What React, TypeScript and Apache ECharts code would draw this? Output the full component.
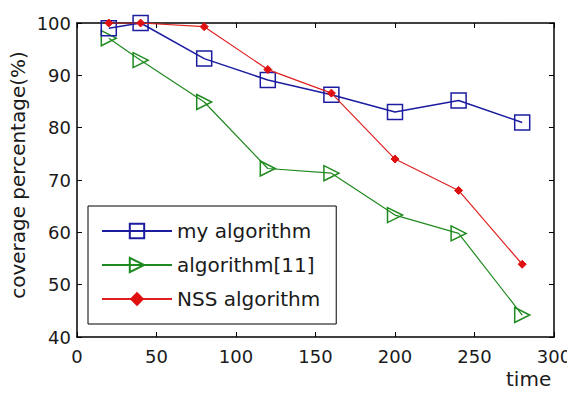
import React, { useEffect, useRef } from "react";
import * as echarts from "echarts";

const times = [20, 40, 80, 120, 160, 200, 240, 280];
const myAlgorithm = [99, 100, 93.2, 89.1, 86.3, 83, 85.2, 81];
const algorithm11 = [97.1, 92.9, 84.9, 72.2, 71.3, 63.3, 59.8, 44.2];
const nssAlgorithm = [100, 100, 99.3, 91.1, 86.6, 74, 68, 53.9];
const xTicks = { min: 0, max: 300, interval: 50 };
const yTicks = { min: 40, max: 100, interval: 10 };

const FONT = "DejaVu Sans";
const TXT = "#1a1a1a";

export default function App() {
  const ref = useRef<HTMLDivElement>(null);
  useEffect(() => {
    if (!ref.current) return;
    const chart = echarts.init(ref.current, undefined, { renderer: "svg" });
    const pair = (ys: number[]) => times.map((t, i) => [t, ys[i]]);
    const axisCommon = {
      axisLine: { show: true, onZero: false, lineStyle: { color: "#000", width: 1.5 } },
      axisTick: { show: true, inside: true, length: 5, lineStyle: { color: "#000", width: 1 } },
      splitLine: { show: false },
    };
    chart.setOption({
      animation: false,
      backgroundColor: "#fff",
      textStyle: { fontFamily: FONT },
      grid: { left: 77, right: 21, top: 23, bottom: 59 },
      xAxis: [
        {
          type: "value",
          ...xTicks,
          position: "bottom",
          ...axisCommon,
          axisLabel: { color: TXT, fontSize: 18, fontFamily: FONT, margin: 10 },
        },
        {
          type: "value",
          ...xTicks,
          position: "top",
          ...axisCommon,
          axisLabel: { show: false },
        },
      ],
      yAxis: [
        {
          type: "value",
          ...yTicks,
          position: "left",
          ...axisCommon,
          axisLabel: { color: TXT, fontSize: 18, fontFamily: FONT, margin: 6 },
        },
        {
          type: "value",
          ...yTicks,
          position: "right",
          ...axisCommon,
          axisLabel: { show: false },
        },
      ],
      legend: {
        orient: "vertical",
        left: 88,
        top: 206,
        padding: [15, 16, 15, 13],
        itemWidth: 70,
        itemHeight: 18,
        itemGap: 14,
        backgroundColor: "#fff",
        borderColor: "#000",
        borderWidth: 1,
        textStyle: { color: TXT, fontSize: 20, fontFamily: FONT },
        data: ["my algorithm", "algorithm[11]", "NSS algorithm"],
      },
      series: [
        {
          name: "my algorithm",
          type: "line",
          data: pair(myAlgorithm),
          symbol: "rect",
          symbolSize: 15,
          lineStyle: { color: "#1c1ca0", width: 1.5 },
          itemStyle: { color: "transparent", borderColor: "#1c1ca0", borderWidth: 1.5 },
          z: 3,
        },
        {
          name: "algorithm[11]",
          type: "line",
          data: pair(algorithm11),
          symbol: "path://M0,0 L10,5 L0,10 Z",
          symbolSize: 15,
          lineStyle: { color: "#1f8a1f", width: 1.2 },
          itemStyle: { color: "transparent", borderColor: "#1f8a1f", borderWidth: 1.5 },
          z: 2,
        },
        {
          name: "NSS algorithm",
          type: "line",
          data: pair(nssAlgorithm),
          symbol: "diamond",
          symbolSize: 8,
          lineStyle: { color: "#e02020", width: 1.2 },
          itemStyle: { color: "#e01010", borderColor: "#e01010" },
          z: 4,
        },
      ],
      graphic: [
        {
          type: "text",
          rotation: Math.PI / 2,
          x: 18,
          y: 175,
          style: {
            text: "coverage percentage(%)",
            fontSize: 20,
            fontFamily: FONT,
            fill: TXT,
            align: "center",
            verticalAlign: "middle",
          },
        },
        {
          type: "text",
          x: 506,
          y: 369,
          style: {
            text: "time",
            fontSize: 20,
            fontFamily: FONT,
            fill: TXT,
            align: "left",
            verticalAlign: "top",
          },
        },
      ],
    });
    return () => chart.dispose();
  }, []);
  return <div ref={ref} style={{ width: 575, height: 396, margin: -8 }} />;
}
